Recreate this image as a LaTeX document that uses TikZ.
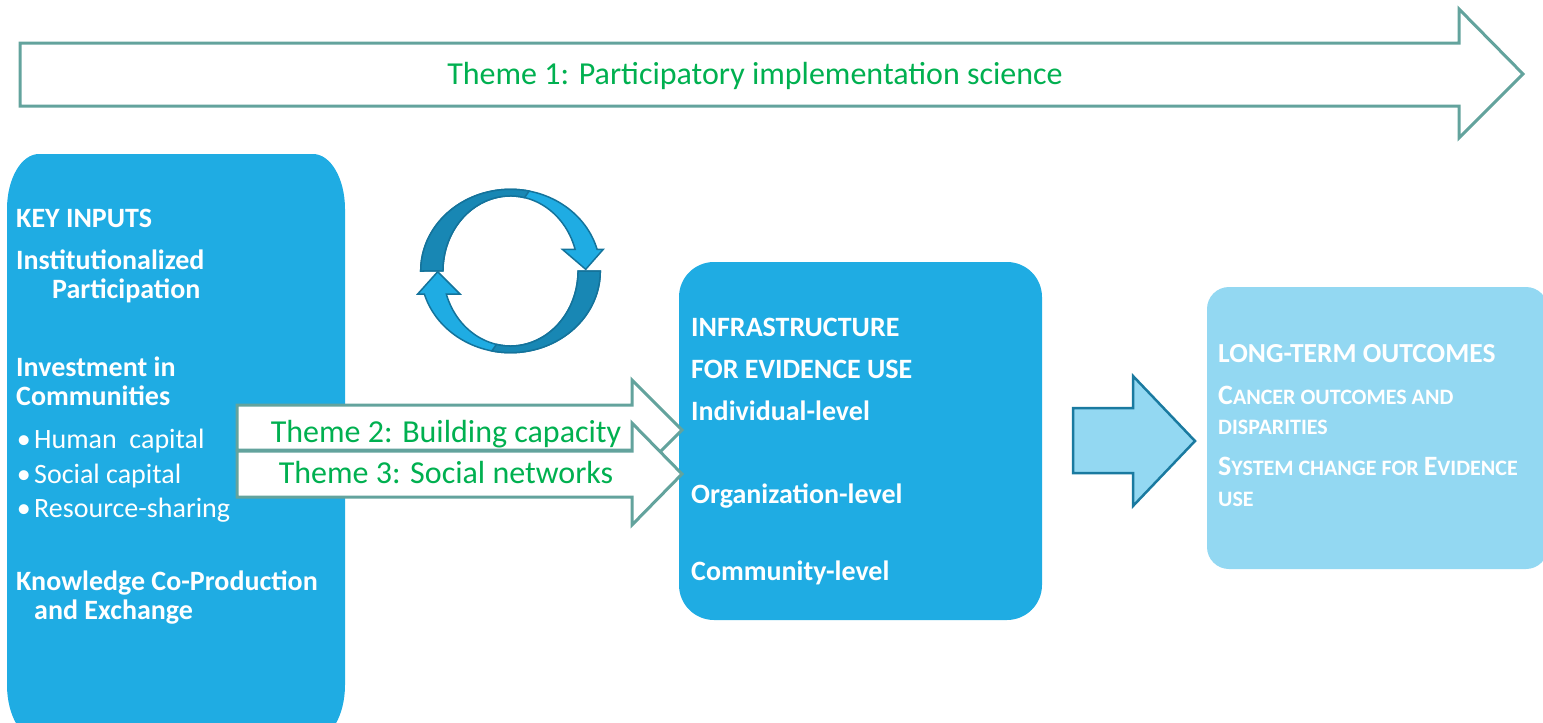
\documentclass[tikz,border=0pt]{standalone}
\usepackage{fontspec}
\setmainfont{Carlito}
\usepackage{tikz}
\usetikzlibrary{positioning}
\definecolor{boxblue}{RGB}{31,172,227}
\definecolor{paleblue}{RGB}{147,216,242}
\definecolor{themeedge}{RGB}{99,163,157}
\definecolor{themegreen}{RGB}{0,176,80}
\definecolor{cycledark}{RGB}{24,135,180}
\definecolor{cycleedge}{RGB}{20,115,155}
\definecolor{outedge}{RGB}{26,122,160}
\newcommand{\capl}[1]{{\fontsize{28}{30}\selectfont #1}}
\tikzstyle{themearrow} = [draw=themeedge, line width=3pt, fill=white]
\tikzstyle{themetext} = [text=themegreen, inner sep=0, anchor=base, font=\fontsize{32}{34}\selectfont]
\tikzstyle{block} = [fill=boxblue, inner sep=0]
\tikzstyle{boxhead} = [anchor=base west, inner sep=0, text=white, font=\fontsize{28}{30}\selectfont\bfseries]
\tikzstyle{bullettext} = [anchor=base west, inner sep=0, text=white, font=\fontsize{28}{30}\selectfont]
\tikzstyle{outtext} = [anchor=base west, inner sep=0, text=white, font=\fontsize{22}{24}\selectfont\bfseries]
\tikzstyle{cyclelight} = [fill=boxblue, draw=cycleedge, line width=1.5pt]
\tikzstyle{cyclepart} = [fill=cycledark, draw=cycleedge, line width=1.5pt]

\begin{document}
\begin{tikzpicture}[x=1pt, y=-1pt]
  \useasboundingbox (0,0) rectangle (1543,723);

  \draw[themearrow] (20,43) -- (1459,43) -- (1459,9) -- (1523,74) -- (1459,138) -- (1459,106) -- (20,106) -- cycle;
  \node[themetext] (theme1) at (755,84) {Theme 1: Participatory implementation science};

  \fill[boxblue] (7,685) -- (7,209) arc[start angle=180, end angle=270, x radius=32, y radius=55]
    -- (313,154) arc[start angle=270, end angle=360, x radius=32, y radius=55]
    -- (345,685) arc[start angle=0, end angle=90, x radius=32, y radius=55]
    -- (39,740) arc[start angle=90, end angle=180, x radius=32, y radius=55] -- cycle;
  \node[block, rounded corners=35pt, minimum width=363pt, minimum height=358pt] (infra) at (860.5,441) {};
  \node[block, fill=paleblue, rounded corners=22pt, minimum width=341pt, minimum height=282pt] (outcomes) at (1377.5,428) {};

  \draw[fill=paleblue, draw=outedge, line width=2.5pt] (1073,408) -- (1133,408) -- (1133,376) -- (1195,441) -- (1133,506) -- (1133,473) -- (1073,473) -- cycle;

  \filldraw[cyclelight] (420.7,271) arc[start angle=180, end angle=344.6, x radius=89.8, y radius=81.7]
    -- (603.3,249.3) -- (585.7,269.3) -- (562.3,249.3) -- (575.1,249.3)
    arc[start angle=343.2, end angle=180, x radius=67.5, y radius=75] -- cycle;
  \filldraw[cyclepart] (420.7,271) arc[start angle=180, end angle=282, x radius=89.8, y radius=81.7]
    -- (524.5,197.6) arc[start angle=282, end angle=180, x radius=67.5, y radius=75] -- cycle;
  \filldraw[cyclelight] (600.3,271) arc[start angle=0, end angle=163.65, x radius=89.8, y radius=81.7]
    -- (417.7,294) -- (437.7,271.7) -- (460,294) -- (446.3,294)
    arc[start angle=162.14, end angle=0, x radius=67.5, y radius=75] -- cycle;
  \filldraw[cyclepart] (600.3,271) arc[start angle=0, end angle=102, x radius=89.8, y radius=81.7]
    -- (496.5,344.4) arc[start angle=102, end angle=0, x radius=67.5, y radius=75] -- cycle;

  \draw[themearrow] (237,405) -- (632,405) -- (632,380) -- (682,430) -- (632,480) -- (632,450) -- (237,450) -- cycle;
  \draw[themearrow] (237,451) -- (632,451) -- (632,423) -- (682,474) -- (632,525) -- (632,497) -- (237,497) -- cycle;
  \node[themetext] (theme2) at (446,442) {Theme 2: Building capacity};
  \node[themetext] (theme3) at (446,483) {Theme 3: Social networks};

  \node[boxhead] (keyin) at (16,227) {KEY INPUTS};
  \node[boxhead] (inst) at (16,269) {Institutionalized};
  \node[boxhead] (part) at (52,298) {Participation};
  \node[boxhead] (invest) at (16,376) {Investment in};
  \node[boxhead] (commun) at (16,405) {Communities};
  \node[bullettext] (human) at (34,448) {Human\ \ capital};
  \node[bullettext] (social) at (34,483) {Social capital};
  \node[bullettext] (resource) at (34,517) {Resource-sharing};
  \foreach \n in {human,social,resource}
    \node[bullettext, anchor=base east] (\n-dot) at ([xshift=-3pt]\n.base west) {•};
  \node[boxhead] (know) at (16,590) {Knowledge Co-Production};
  \node[boxhead] (exch) at (34,619) {and Exchange};

  \node[boxhead] (infrahead) at (691,336) {INFRASTRUCTURE};
  \node[boxhead] (evid) at (691,378) {FOR EVIDENCE USE};
  \node[boxhead] (indiv) at (691,420) {Individual-level};
  \node[boxhead] (org) at (691,503) {Organization-level};
  \node[boxhead] (comm) at (691,580) {Community-level};

  \node[boxhead, font=\fontsize{27.5}{30}\selectfont\bfseries] (longterm) at (1218,362) {LONG-TERM OUTCOMES};
  \node[outtext] (cancer) at (1218,404) {\capl{C}ANCER OUTCOMES AND};
  \node[outtext] (dispar) at (1218,434) {DISPARITIES};
  \node[outtext] (system) at (1218,475) {\capl{S}YSTEM CHANGE FOR \capl{E}VIDENCE};
  \node[outtext] (use) at (1218,506) {USE};
\end{tikzpicture}
\end{document}
